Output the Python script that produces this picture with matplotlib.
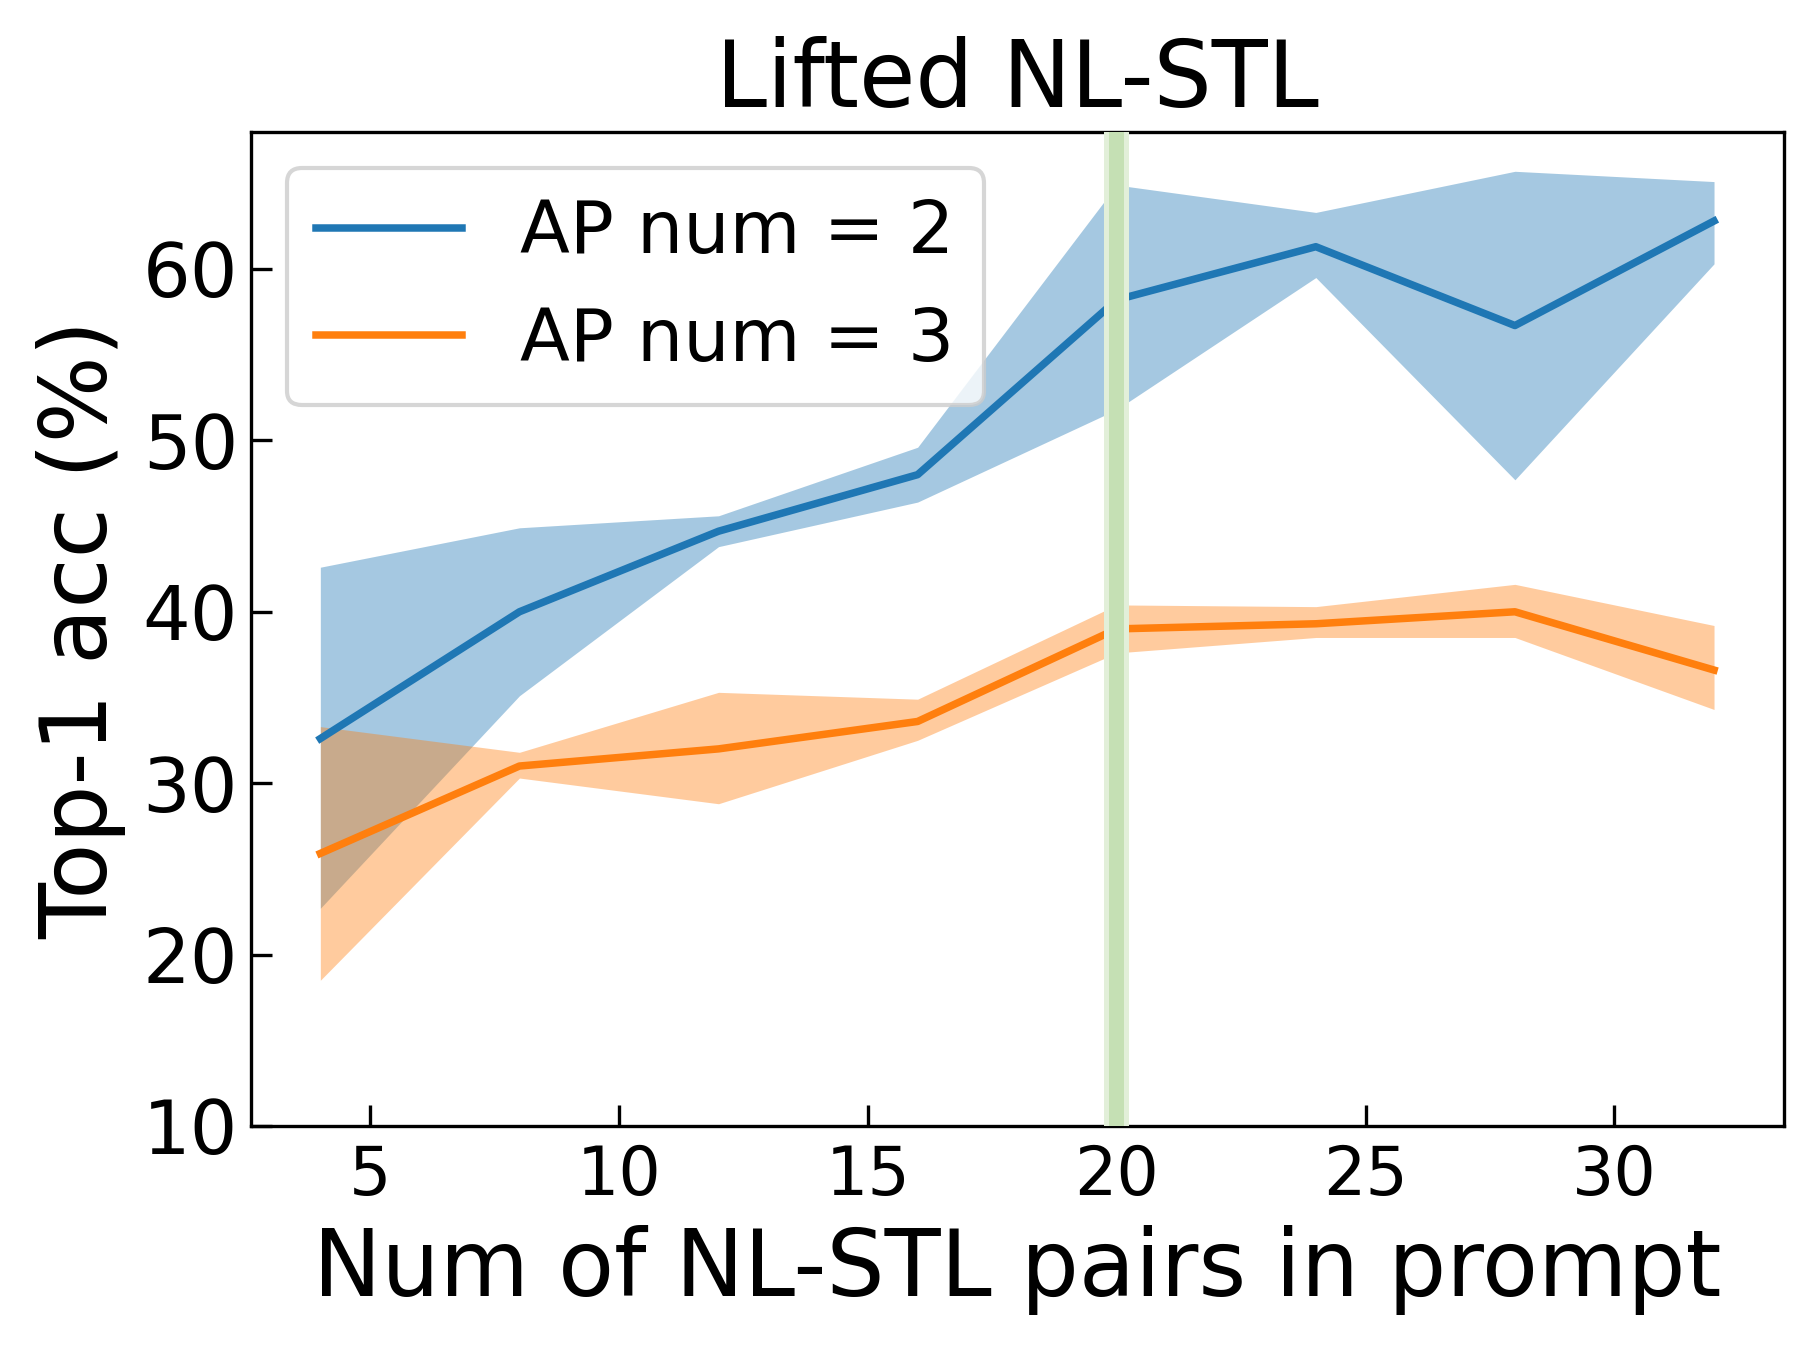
import matplotlib
matplotlib.use("Agg")
import matplotlib.pyplot as plt
import numpy as np

# number of NL-STL pairs in prompt
pairs = [4, 8, 12, 16, 20, 24, 28, 32]

# AP num = 2
ap2_mean = [32.6, 40.0, 44.7, 48.0, 58.2, 61.3, 56.7, 62.8]
ap2_low = [22.7, 35.1, 43.8, 46.4, 51.8, 59.5, 47.7, 60.3]
ap2_high = [42.6, 44.9, 45.6, 49.6, 64.9, 63.3, 65.7, 65.1]

# AP num = 3
ap3_mean = [25.9, 31.0, 32.0, 33.6, 39.0, 39.3, 40.0, 36.6]
ap3_low = [18.5, 30.3, 28.8, 32.5, 37.6, 38.5, 38.5, 34.3]
ap3_high = [33.3, 31.8, 35.3, 34.9, 40.4, 40.3, 41.6, 39.2]

chosen = 20  # highlighted prompt size

fig = plt.figure(figsize=(1819 / 300, 1347 / 300), dpi=300)
ax = fig.add_axes([0.1378, 0.1641, 0.8428, 0.738])

ax.plot(pairs, ap2_mean, color="#1f77b4", lw=1.8, label="AP num = 2")
ax.fill_between(pairs, ap2_low, ap2_high, color="#1f77b4", alpha=0.4, lw=0)
ax.plot(pairs, ap3_mean, color="#ff7f0e", lw=1.8, label="AP num = 3")
ax.fill_between(pairs, ap3_low, ap3_high, color="#ff7f0e", alpha=0.4, lw=0)

ax.axvspan(chosen - 0.25, chosen + 0.25, color="#e2efd9", lw=0, zorder=5)
ax.axvspan(chosen - 0.15, chosen + 0.15, color="#c5e0b4", lw=0, zorder=6)

ax.set_ylim(10, 68)
ax.set_xticks([5, 10, 15, 20, 25, 30])
ax.set_yticks([10, 20, 30, 40, 50, 60])
ax.tick_params(direction="in", length=5, width=0.8)
ax.tick_params(axis="x", labelsize=16, pad=4)
ax.tick_params(axis="y", labelsize=18, pad=3)
for s in ax.spines.values():
    s.set_linewidth(0.8)

ax.set_title("Lifted NL-STL", fontsize=22)
ax.set_xlabel("Num of NL-STL pairs in prompt", fontsize=22)
ax.set_ylabel("Top-1 acc (%)", fontsize=22, labelpad=4)
ax.legend(loc="upper left", fontsize=17.5)

fig.savefig("out.png", dpi=300)
